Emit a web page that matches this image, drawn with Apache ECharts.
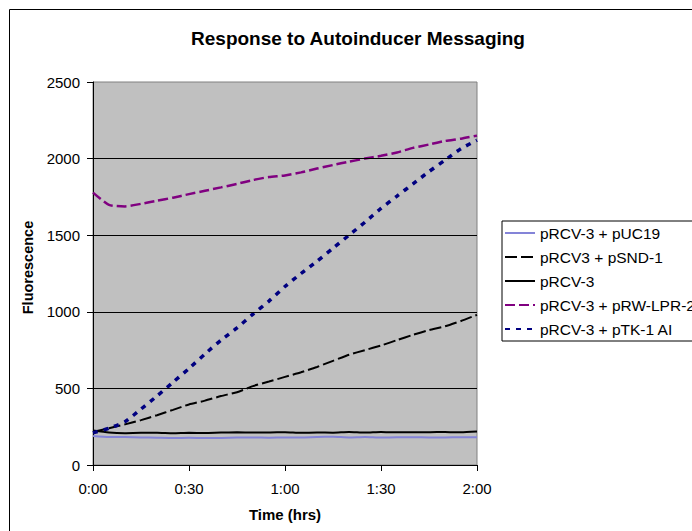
<!DOCTYPE html>
<html><head><meta charset="utf-8">
<script src="https://cdn.jsdelivr.net/npm/echarts@6/dist/echarts.min.js"></script>
<style>html,body{margin:0;padding:0;overflow:hidden;background:#fff}#c{width:760px;height:560px}</style>
</head><body><div id="c"></div><script>
// time in minutes
const times = [0,5,10,15,20,25,30,35,40,45,50,55,60,65,70,75,80,85,90,95,100,105,110,115,120];
const xTickLabels = ['0:00','0:30','1:00','1:30','2:00'];
const gridValues = [500,1000,1500,2000];
const seriesNames = ['pRCV-3 + pUC19','pRCV3 + pSND-1','pRCV-3','pRCV-3 + pRW-LPR-2','pRCV-3 + pTK-1 AI'];
const pUC19 = [190,183,182,180,178,176,178,176,177,179,180,178,180,180,183,184,180,183,179,181,181,180,180,181,181];
const pSND1 = [215,240,265,293,325,360,395,420,450,475,515,545,575,605,640,680,720,750,780,815,850,880,905,940,980];
const pRCV3 = [225,212,208,210,210,207,210,209,212,213,212,212,214,210,212,211,216,212,216,213,214,214,216,213,218];
const pRWLPR2 = [1778,1698,1688,1705,1725,1745,1768,1790,1812,1835,1860,1880,1890,1910,1935,1958,1980,2000,2018,2040,2070,2092,2115,2130,2150];
const pTK1 = [210,240,283,365,450,540,630,725,815,895,985,1070,1165,1250,1330,1415,1500,1585,1675,1755,1835,1915,1990,2065,2120];

const font = '"Liberation Sans", Arial, Helvetica, sans-serif';
const pair = arr => times.map((t,i)=>[t,arr[i]]);
const chart = echarts.init(document.getElementById('c'), null, {renderer:'svg'});
const lineSeries = (name, data, color, width, type) => ({
  name, type:'line', data:pair(data), symbol:'none', showSymbol:false, smooth:0.2,
  lineStyle:{color, width, type}, itemStyle:{color}, z:3
});
chart.setOption({
  animation:false,
  textStyle:{fontFamily:font},
  title:{text:'Response to Autoinducer Messaging', left:353, top:24, textAlign:'center',
    textStyle:{fontSize:19, fontWeight:'bold', color:'#000', fontFamily:font}},
  graphic:[{type:'rect', shape:{x:9.5,y:9.5,width:745,height:545}, style:{fill:'none',stroke:'#000',lineWidth:1}, silent:true, z:-10}],
  grid:{left:93, top:82, width:384, height:383, show:true, backgroundColor:'#C0C0C0', borderColor:'#808080', borderWidth:1},
  legend:{orient:'vertical', left:502, top:221, itemWidth:30, itemHeight:15, itemGap:8,
    padding:[4,30,4,2], borderColor:'#000', borderWidth:1, backgroundColor:'#fff',
    itemStyle:{opacity:0},
    data:seriesNames, textStyle:{fontSize:15.5, color:'#000', fontFamily:font}},
  xAxis:{type:'value', min:0, max:120, interval:30,
    name:'Time (hrs)', nameLocation:'middle', nameGap:42,
    nameTextStyle:{fontSize:15, fontWeight:'bold', color:'#000', fontFamily:font},
    axisLine:{show:true, lineStyle:{color:'#000', width:1}},
    axisTick:{show:true, length:6, lineStyle:{color:'#000'}},
    axisLabel:{fontSize:15, color:'#000', margin:16, formatter:v=>xTickLabels[Math.round(v/30)]},
    splitLine:{show:false}},
  yAxis:{type:'value', min:0, max:2500, interval:500,
    name:'Fluorescence', nameLocation:'middle', nameGap:54,
    nameTextStyle:{fontSize:14.5, fontWeight:'bold', color:'#000', fontFamily:font, padding:[0,0,0,12]},
    axisLine:{show:true, lineStyle:{color:'#000', width:1}},
    axisTick:{show:true, length:6, lineStyle:{color:'#000'}},
    axisLabel:{fontSize:15, color:'#000', margin:13, formatter:v=>String(v)},
    splitLine:{show:false}},
  series:[
    {type:'line', data:[], silent:true, z:1,
      markLine:{silent:true, symbol:'none', label:{show:false}, animation:false,
        lineStyle:{color:'#000', width:1, type:'solid'},
        data:gridValues.map(v=>({yAxis:v}))}},
    lineSeries(seriesNames[0], pUC19, '#8484D8', 2, 'solid'),
    lineSeries(seriesNames[1], pSND1, '#000000', 2, [12,4]),
    lineSeries(seriesNames[2], pRCV3, '#000000', 2, 'solid'),
    lineSeries(seriesNames[3], pRWLPR2, '#800080', 2.5, [10,4]),
    lineSeries(seriesNames[4], pTK1, '#000080', 3.5, [5,6])
  ]
});
</script></body></html>
